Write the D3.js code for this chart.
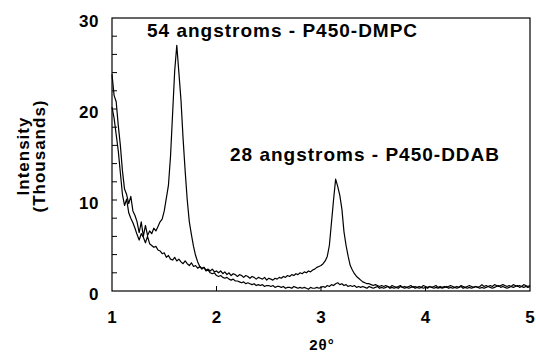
<!DOCTYPE html>
<html>
<head>
<meta charset="utf-8">
<script src="https://cdn.jsdelivr.net/npm/d3@7"></script>
<style>
  body { margin: 0; background: #fff; }
  text { font-family: "Liberation Sans", Arial, sans-serif; font-weight: bold; fill: #000; }
</style>
</head>
<body>
<div id="chart"></div>
<script>
// sampling grid of the scan, degrees 2-theta
const thetaStart = 1.0;
const thetaStep = 0.02;

// intensity in thousands, one value per step
const dmpc = [
  23.8, 21.5, 20.8, 18.2, 16.0, 13.2, 11.2, 10.6, 9.6, 10.4,
  8.8, 8.3, 7.6, 6.4, 7.6, 6.0, 7.2, 6.1, 6.6, 6.3,
  6.9, 6.6, 7.1, 7.6, 7.9, 8.8, 10.2, 11.6, 14.8, 19.5,
  24.2, 27.0, 24.0, 21.0, 16.8, 13.2, 10.0, 7.6, 6.2, 4.9,
  3.9, 3.2, 2.7, 2.5, 2.6, 2.2, 2.3, 2.0, 1.9, 2.0,
  1.7, 1.6, 1.7, 1.5, 1.4, 1.5, 1.3, 1.2, 1.3, 1.1,
  1.1, 1.0, 0.9, 1.0, 0.8, 0.9, 0.8, 0.7, 0.8, 0.6,
  0.7, 0.6, 0.7, 0.5, 0.6, 0.6, 0.5, 0.6, 0.4, 0.5,
  0.5, 0.4, 0.5, 0.3, 0.4, 0.4, 0.3, 0.5, 0.4, 0.3,
  0.4, 0.3, 0.4, 0.3, 0.2, 0.4, 0.3, 0.3, 0.4, 0.3,
  0.4, 0.5, 0.4, 0.6, 0.5, 0.7, 0.6, 0.8, 0.9, 0.7,
  0.8, 0.6, 0.7, 0.5, 0.6, 0.5, 0.6, 0.4, 0.5, 0.4,
  0.5, 0.4, 0.3, 0.5, 0.4, 0.3, 0.4, 0.5, 0.3, 0.4,
  0.3, 0.4, 0.5, 0.3, 0.4, 0.3, 0.4, 0.3, 0.5, 0.4,
  0.3, 0.4, 0.3, 0.4, 0.5, 0.3, 0.4, 0.3, 0.4, 0.3,
  0.4, 0.3, 0.5, 0.4, 0.3, 0.4, 0.3, 0.4, 0.3, 0.4,
  0.5, 0.3, 0.4, 0.3, 0.4, 0.3, 0.4, 0.5, 0.3, 0.4,
  0.3, 0.4, 0.3, 0.4, 0.5, 0.4, 0.3, 0.4, 0.3, 0.4,
  0.5, 0.4, 0.3, 0.4, 0.5, 0.6, 0.4, 0.5, 0.4, 0.3,
  0.4, 0.5, 0.4, 0.5, 0.6, 0.4, 0.5, 0.4, 0.5, 0.4,
  0.5
];

const ddab = [
  20.2, 19.0, 17.2, 15.4, 13.0, 10.6, 9.4, 10.1, 8.6, 8.0,
  7.5, 6.9, 6.2, 5.6, 6.3, 5.9, 5.3, 6.0, 5.2, 5.0,
  4.8, 4.9, 4.5, 4.4, 4.1, 4.2, 3.7, 3.9, 3.5, 3.4,
  3.7, 3.3, 3.5, 3.2, 3.0, 3.3, 3.0, 2.8, 3.1, 2.7,
  2.8, 2.5, 2.7, 2.4, 2.6, 2.3, 2.4, 2.2, 2.4, 2.1,
  2.2, 2.0, 2.2, 1.9, 2.1, 1.8, 2.0, 1.7, 1.9, 1.8,
  1.6, 1.8, 1.7, 1.5, 1.7, 1.6, 1.4, 1.6, 1.5, 1.3,
  1.5, 1.4, 1.3, 1.5, 1.2, 1.4, 1.3, 1.2, 1.4, 1.3,
  1.5, 1.4, 1.6, 1.5, 1.7, 1.6, 1.8, 1.7, 1.9, 1.8,
  2.0, 1.9, 2.1, 2.0, 2.2, 2.1, 2.3, 2.4, 2.6, 2.7,
  2.8, 3.0, 3.3, 3.8, 5.0, 7.5, 10.0, 12.3, 11.5, 10.5,
  9.0, 6.5, 5.0, 3.8, 2.8, 2.3, 1.9, 1.6, 1.4, 1.2,
  1.0, 0.9, 0.8, 0.8, 0.7, 0.6, 0.7, 0.6, 0.5, 0.6,
  0.5, 0.6, 0.5, 0.4, 0.6, 0.5, 0.4, 0.5, 0.6, 0.4,
  0.5, 0.4, 0.5, 0.6, 0.4, 0.5, 0.4, 0.5, 0.4, 0.6,
  0.5, 0.4, 0.5, 0.4, 0.5, 0.6, 0.4, 0.5, 0.4, 0.5,
  0.4, 0.5, 0.6, 0.5, 0.4, 0.5, 0.4, 0.6, 0.5, 0.4,
  0.5, 0.6, 0.5, 0.4, 0.5, 0.4, 0.5, 0.7, 0.5, 0.6,
  0.5, 0.6, 0.5, 0.7, 0.6, 0.5, 0.6, 0.7, 0.6, 0.5,
  0.6, 0.5, 0.7, 0.6, 0.5, 0.6, 0.5, 0.7, 0.6, 0.5,
  0.6
];

const xTicks = [1, 2, 3, 4, 5];
const yTicks = [0, 10, 20, 30];
const yMinor = [2, 4, 6, 8, 12, 14, 16, 18, 22, 24, 26, 28];
const labelDmpc = "54 angstroms - P450-DMPC";
const labelDdab = "28 angstroms - P450-DDAB";

function makeChart() {
  const width = 536;
  const height = 352;
  const margin = { left: 112, right: 6, top: 18, bottom: 61 };

  const svg = d3.select("#chart").append("svg")
    .attr("width", width)
    .attr("height", height);

  const x = d3.scaleLinear().domain([1, 5]).range([margin.left, width - margin.right]);
  const y = d3.scaleLinear().domain([0, 30]).range([height - margin.bottom, margin.top]);

  // frame
  svg.append("rect")
    .attr("x", x(1)).attr("y", y(30))
    .attr("width", x(5) - x(1)).attr("height", y(0) - y(30))
    .attr("fill", "none").attr("stroke", "#000").attr("stroke-width", 1.2);

  // inward ticks
  svg.append("g").selectAll("line")
    .data(yMinor.concat(yTicks.slice(1, 3)))
    .join("line")
    .attr("x1", x(1)).attr("x2", x(1) + 5)
    .attr("y1", d => y(d)).attr("y2", d => y(d))
    .attr("stroke", "#000").attr("stroke-width", 1);

  svg.append("g").selectAll("line")
    .data(xTicks.slice(1, 4))
    .join("line")
    .attr("x1", d => x(d)).attr("x2", d => x(d))
    .attr("y1", y(0)).attr("y2", y(0) - 5)
    .attr("stroke", "#000").attr("stroke-width", 1);

  // tick labels
  svg.append("g").selectAll("text")
    .data(yTicks)
    .join("text")
    .attr("x", 99).attr("y", d => y(d) + 9)
    .attr("text-anchor", "end")
    .style("font-size", "17px")
    .style("letter-spacing", "0.5px")
    .text(d => d);

  svg.append("g").selectAll("text")
    .data(xTicks)
    .join("text")
    .attr("x", d => x(d)).attr("y", 323)
    .attr("text-anchor", "middle")
    .style("font-size", "17px")
    .text(d => d);

  // axis titles
  svg.append("text")
    .attr("x", 322).attr("y", 350)
    .attr("text-anchor", "middle")
    .style("font-size", "15px")
    .style("letter-spacing", "1px")
    .text("2θ°");

  const yt = svg.append("text")
    .attr("transform", "translate(29,156) rotate(-90)")
    .attr("text-anchor", "middle")
    .style("font-size", "17px")
    .style("letter-spacing", "1px");
  yt.append("tspan").attr("x", 0).attr("dy", 0).text("Intensity");
  yt.append("tspan").attr("x", 0).attr("dy", 16).text("(Thousands)");

  // curves
  const line = d3.line()
    .x((d, i) => x(thetaStart + i * thetaStep))
    .y(d => y(d));

  [ddab, dmpc].forEach(s => {
    svg.append("path")
      .datum(s)
      .attr("d", line)
      .attr("fill", "none")
      .attr("stroke", "#000")
      .attr("stroke-width", 1.2)
      .attr("stroke-linejoin", "round");
  });

  // peak labels
  svg.append("text")
    .attr("x", 147).attr("y", 37)
    .style("font-size", "19px")
    .style("letter-spacing", "1px")
    .text(labelDmpc);

  svg.append("text")
    .attr("x", 230).attr("y", 161)
    .style("font-size", "19px")
    .style("letter-spacing", "1px")
    .text(labelDdab);
}

makeChart();
</script>
</body>
</html>
